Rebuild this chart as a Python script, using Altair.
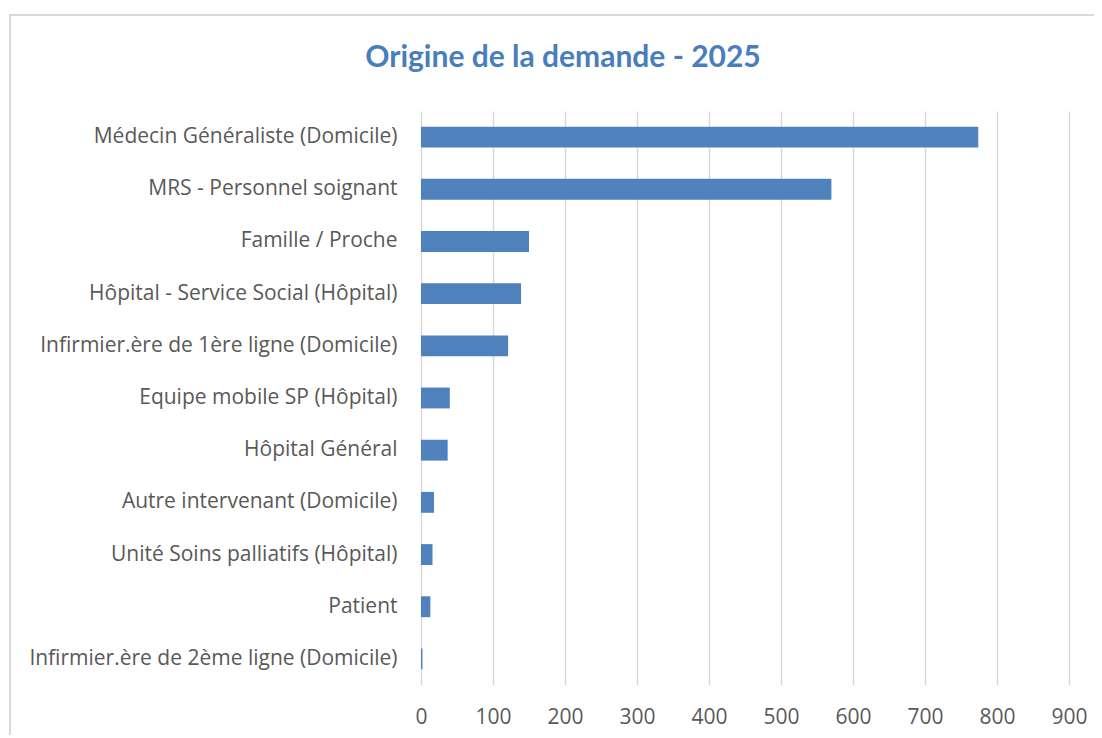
import altair as alt
import pandas as pd

categories = [
    "Médecin Généraliste (Domicile)",
    "MRS - Personnel soignant",
    "Famille / Proche",
    "Hôpital - Service Social (Hôpital)",
    "Infirmier.ère de 1ère ligne (Domicile)",
    "Equipe mobile SP (Hôpital)",
    "Hôpital Général",
    "Autre intervenant (Domicile)",
    "Unité Soins palliatifs (Hôpital)",
    "Patient",
    "Infirmier.ère de 2ème ligne (Domicile)",
]
values = [774, 570, 150, 139, 121, 40, 37, 18, 16, 13, 2]
x_ticks = [0, 100, 200, 300, 400, 500, 600, 700, 800, 900]
title_text = "Origine de la demande - 2025"

df = pd.DataFrame({"cat": categories, "val": values})

W, H = 648, 574

frame = alt.Chart(df).mark_rect(
    fill=None, stroke="#d9d9d9", strokeWidth=1.5
).encode(
    x=alt.value(-411), x2=alt.value(800), y=alt.value(-96), y2=alt.value(900)
)

title = alt.Chart(pd.DataFrame({"t": [title_text]})).mark_text(
    font="Lato", fontSize=30, fontWeight="bold", color="#4a7ebb",
    align="center", baseline="middle"
).encode(text="t:N", x=alt.value(142), y=alt.value(-53))

bars = alt.Chart(df).mark_bar(color="#4f81bd").encode(
    x=alt.X("val:Q",
            scale=alt.Scale(domain=[0, 900], nice=False),
            axis=alt.Axis(values=x_ticks, title=None, grid=True, gridColor="#d9d9d9",
                          gridWidth=1.5, domain=False, ticks=False, labelFlush=False,
                          labelFont="Open Sans", labelFontSize=21, labelColor="#595959",
                          labelPadding=21)),
    y=alt.Y("cat:N", sort=categories,
            scale=alt.Scale(paddingInner=0.6, paddingOuter=0.3),
            axis=alt.Axis(title=None, domain=False, ticks=False,
                          labelFont="Open Sans", labelFontSize=21, labelColor="#595959",
                          labelPadding=24, labelLimit=500)),
)

chart = alt.layer(frame, bars, title).properties(
    width=W, height=H,
    background="white",
    autosize=alt.AutoSizeParams(type="none"),
    padding={"left": 413, "top": 103, "right": 25, "bottom": 50},
).configure_view(stroke=None)

chart.save("out.html", embed_options={"renderer": "svg", "actions": False})
